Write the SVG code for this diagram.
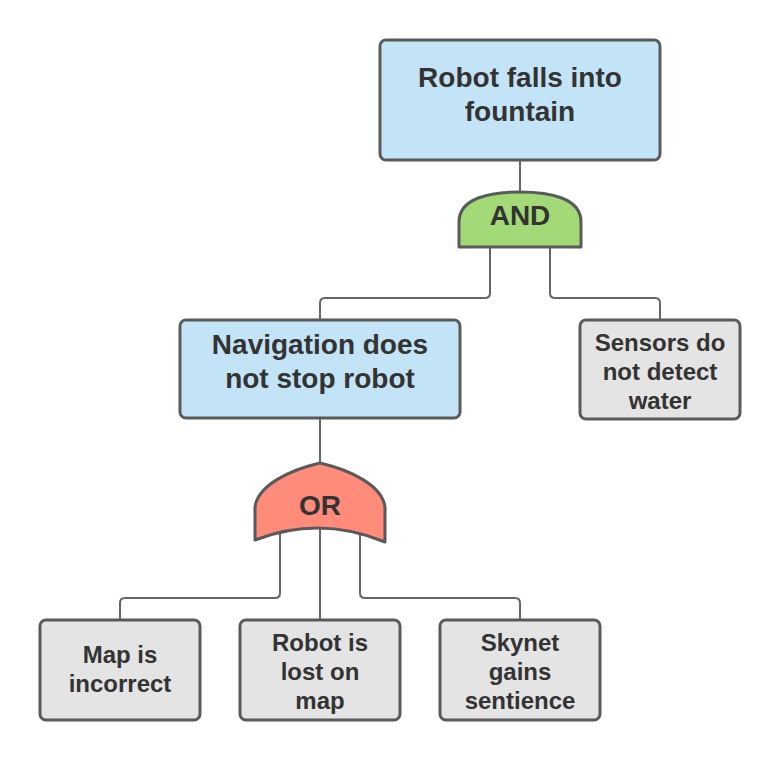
<svg xmlns="http://www.w3.org/2000/svg" width="780" height="760" viewBox="0 0 780 760">
<style>
.box{stroke:#5a5a5a;stroke-width:3}
.blue{fill:#c3e4f6}
.gray{fill:#e4e4e4}
.gate{stroke:#5a5a5a;stroke-width:3;stroke-linejoin:round}
.conn{fill:none;stroke:#666;stroke-width:2}
text{font-family:"Liberation Sans",Arial,sans-serif;font-weight:bold;fill:#333;text-anchor:middle}
.big{font-size:28px}
.small{font-size:24px}
</style>
<rect width="780" height="760" fill="#fff"/>
<g id="connectors">
<path class="conn" d="M520,160 V195"/>
<path class="conn" d="M490,240 V293 Q490,298 485,298 H325 Q320,298 320,303 V320"/>
<path class="conn" d="M550,240 V293 Q550,298 555,298 H655 Q660,298 660,303 V320"/>
<path class="conn" d="M320,418 V466"/>
<path class="conn" d="M280,530 V593 Q280,598 275,598 H125 Q120,598 120,603 V620"/>
<path class="conn" d="M320,525 V620"/>
<path class="conn" d="M360,530 V593 Q360,598 365,598 H515 Q520,598 520,603 V620"/>
</g>
<g id="top">
<rect class="box blue" x="380" y="40" width="280" height="120" rx="6"/>
<text class="big" x="520" y="87">Robot falls into</text>
<text class="big" x="520" y="121">fountain</text>
</g>
<g id="and-gate">
<path class="gate" fill="#a3d977" d="M459,247 V222 C459,198 490,192 520,192 C550,192 581,198 581,222 V247 Z"/>
<text class="big" x="520" y="225">AND</text>
</g>
<g id="navigation">
<rect class="box blue" x="180" y="320" width="280" height="98" rx="6"/>
<text class="big" x="320" y="354">Navigation does</text>
<text class="big" x="320" y="388">not stop robot</text>
</g>
<g id="sensors">
<rect class="box gray" x="580" y="320" width="160" height="99" rx="6"/>
<text class="small" x="660" y="351">Sensors do</text>
<text class="small" x="660" y="380">not detect</text>
<text class="small" x="660" y="409">water</text>
</g>
<g id="or-gate">
<path class="gate" fill="#ff8b7b" d="M255,540 V507 C258,485 290,470 320,463 C350,470 382,485 385,507 V542 Q320,515 255,540 Z"/>
<text class="big" x="320" y="515">OR</text>
</g>
<g id="map">
<rect class="box gray" x="40" y="620" width="160" height="100" rx="6"/>
<text class="small" x="120" y="663">Map is</text>
<text class="small" x="120" y="692">incorrect</text>
</g>
<g id="lost">
<rect class="box gray" x="240" y="620" width="160" height="100" rx="6"/>
<text class="small" x="320" y="651">Robot is</text>
<text class="small" x="320" y="680">lost on</text>
<text class="small" x="320" y="709">map</text>
</g>
<g id="skynet">
<rect class="box gray" x="440" y="620" width="160" height="100" rx="6"/>
<text class="small" x="520" y="651">Skynet</text>
<text class="small" x="520" y="680">gains</text>
<text class="small" x="520" y="709">sentience</text>
</g>
</svg>
